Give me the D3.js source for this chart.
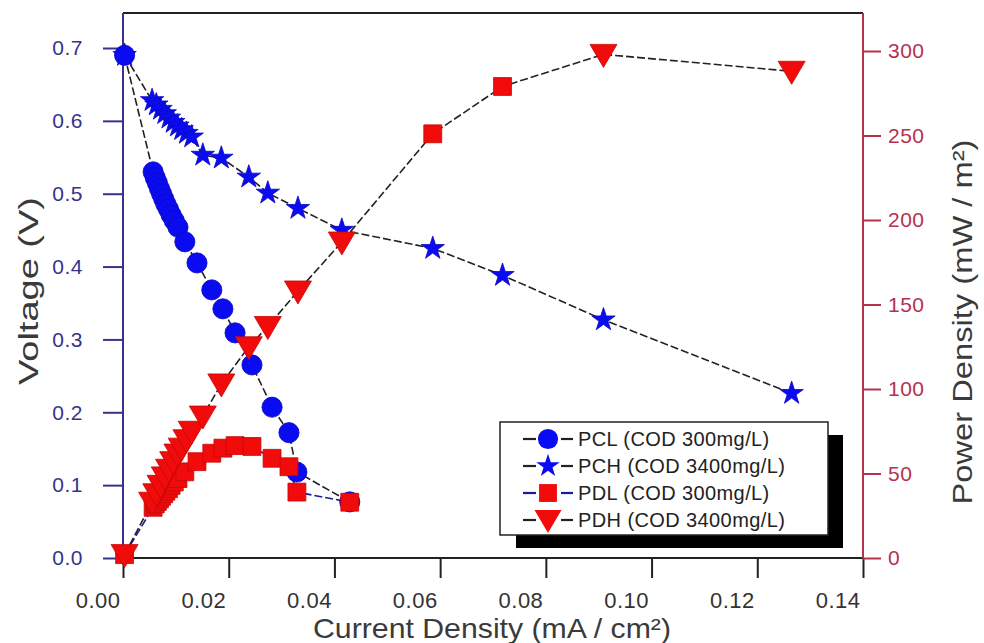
<!DOCTYPE html>
<html>
<head>
<meta charset="utf-8">
<script src="https://cdn.jsdelivr.net/npm/d3@7"></script>
<style>
  body { margin: 0; background: #fff; }
  text { font-family: "Liberation Sans", Arial, sans-serif; }
</style>
</head>
<body>
<svg id="chart" width="984" height="643"></svg>
<script>
// tick values
const xTicks = [0, 0.02, 0.04, 0.06, 0.08, 0.10, 0.12, 0.14];
const voltTicks = [0, 0.1, 0.2, 0.3, 0.4, 0.5, 0.6, 0.7];
const powerTicks = [0, 50, 100, 150, 200, 250, 300];

// low COD runs (PCL voltage, PDL power) share the current density values
const lowX = [0.0003, 0.0057, 0.0061, 0.0065, 0.0069, 0.0073, 0.0077, 0.0081, 0.0086, 0.0091,
  0.0097, 0.0104, 0.0117, 0.0140, 0.0168, 0.0189, 0.0212, 0.0244, 0.0282, 0.0314, 0.0329, 0.0429];
const pclV = [0.690, 0.530, 0.522, 0.515, 0.507, 0.500, 0.493, 0.486, 0.479, 0.471,
  0.463, 0.454, 0.434, 0.405, 0.368, 0.342, 0.309, 0.265, 0.207, 0.172, 0.118, 0.077];
const pdlP = [2, 30, 32, 33.5, 35, 36.5, 38, 39.5, 41, 43,
  45, 47, 51, 57, 62, 65, 66.5, 66, 59, 54, 39, 33];

// high COD runs (PCH voltage, PDH power)
const highX = [0.0003, 0.0055, 0.0063, 0.0071, 0.0079, 0.0087, 0.0095, 0.0103, 0.0111, 0.0120,
  0.0130, 0.0151, 0.0186, 0.0238, 0.0274, 0.0331, 0.0414, 0.0586, 0.0718, 0.0909, 0.1265];
const pchV = [0.690, 0.628, 0.622, 0.616, 0.610, 0.604, 0.598, 0.593, 0.588, 0.583,
  0.578, 0.553, 0.549, 0.523, 0.501, 0.480, 0.450, 0.425, 0.388, 0.327, 0.226];
const pdhP = [2, 33, 38, 43, 48, 52.5, 57, 61.5, 65, 70,
  75, 84, 103, 125, 137, 158, 187, 251, 279, 298, 288];
// in the original two PDH points are drawn with square markers
const pdhSquareIdx = [17, 18];

const legendNames = ['PCL (COD 300mg/L)', 'PCH (COD 3400mg/L)', 'PDL (COD 300mg/L)', 'PDH (COD 3400mg/L)'];

const svg = d3.select('#chart');
const plotL = 123, plotR = 863, plotT = 13, plotB = 558;

const x = d3.scaleLinear().domain([0, 0.14]).range([plotL, plotR]);
const yV = d3.scaleLinear().domain([0, 0.7]).range([plotB, 48]);
const yP = d3.scaleLinear().domain([0, 300]).range([plotB, 51]);

const blue = '#0b0bf2', red = '#f20b0b';
const navy = '#34348f', crimson = '#b5314f';

// marker paths
const circlePath = d3.symbol(d3.symbolCircle, 320)();
const starPath = d3.symbol(d3.symbolStar, 170)();
const squarePath = d3.symbol(d3.symbolSquare, 320)();
const triPath = 'M-13.5,-10L13.5,-10L0,13Z';

// axes
const xAxis = svg.append('g')
  .attr('transform', `translate(0,${plotB})`)
  .call(d3.axisBottom(x).tickValues(xTicks).tickFormat(d3.format('.2f')).tickSize(20).tickSizeOuter(0).tickPadding(14));
xAxis.select('.domain').remove();
xAxis.selectAll('line').attr('stroke', '#222').attr('stroke-width', 2);
xAxis.selectAll('text')
  .attr('text-anchor', 'end').attr('x', -3)
  .style('font-size', '22px').style('letter-spacing', '0.5px').attr('fill', '#333');

const vAxis = svg.append('g')
  .attr('transform', `translate(${plotL},0)`)
  .call(d3.axisLeft(yV).tickValues(voltTicks).tickFormat(d3.format('.1f')).tickSize(20).tickSizeOuter(0).tickPadding(20));
vAxis.select('.domain').remove();
vAxis.selectAll('line').attr('stroke', navy).attr('stroke-width', 2);
vAxis.selectAll('text').style('font-size', '21px').style('letter-spacing', '0.5px').attr('fill', navy);

const pAxis = svg.append('g')
  .attr('transform', `translate(${plotR},0)`)
  .call(d3.axisRight(yP).tickValues(powerTicks).tickSize(18).tickSizeOuter(0).tickPadding(7));
pAxis.select('.domain').remove();
pAxis.selectAll('line').attr('stroke', crimson).attr('stroke-width', 2);
pAxis.selectAll('text').style('font-size', '21px').style('letter-spacing', '0.5px').attr('fill', crimson);

// frame
svg.append('line').attr('x1', plotL).attr('x2', plotR).attr('y1', plotT).attr('y2', plotT)
  .attr('stroke', '#222').attr('stroke-width', 2);
svg.append('line').attr('x1', plotL).attr('x2', plotR).attr('y1', plotB).attr('y2', plotB)
  .attr('stroke', '#222').attr('stroke-width', 2);
svg.append('line').attr('x1', plotL).attr('x2', plotL).attr('y1', plotT).attr('y2', plotB)
  .attr('stroke', navy).attr('stroke-width', 2);
svg.append('line').attr('x1', plotR).attr('x2', plotR).attr('y1', plotT).attr('y2', plotB)
  .attr('stroke', crimson).attr('stroke-width', 2);

// axis titles
svg.append('text').attr('transform', 'translate(38,291) rotate(-90)')
  .attr('text-anchor', 'middle').style('font-size', '27px').attr('fill', '#3a3a3a')
  .attr('textLength', 188).attr('lengthAdjust', 'spacingAndGlyphs')
  .text('Voltage (V)');
svg.append('text').attr('transform', 'translate(972,322) rotate(-90)')
  .attr('text-anchor', 'middle').style('font-size', '27px').attr('fill', '#3a3a3a')
  .attr('textLength', 365).attr('lengthAdjust', 'spacingAndGlyphs')
  .text('Power Density (mW / m²)');
svg.append('text').attr('x', 492).attr('y', 638)
  .attr('text-anchor', 'middle').style('font-size', '28px').attr('fill', '#3a3a3a')
  .attr('textLength', 358).attr('lengthAdjust', 'spacingAndGlyphs')
  .text('Current Density (mA / cm²)');

// series
const toPts = (xs, ys) => xs.map((v, i) => ({ x: v, y: ys[i], i }));
const pcl = toPts(lowX, pclV), pdl = toPts(lowX, pdlP);
const pch = toPts(highX, pchV), pdh = toPts(highX, pdhP);

const lineV = d3.line().x(d => x(d.x)).y(d => yV(d.y));
const lineP = d3.line().x(d => x(d.x)).y(d => yP(d.y));

const lines = svg.append('g').attr('fill', 'none').attr('stroke-width', 1.6).attr('stroke-dasharray', '8,3');
lines.append('path').attr('d', lineV(pch)).attr('stroke', '#222');
lines.append('path').attr('d', lineV(pcl)).attr('stroke', '#222');
lines.append('path').attr('d', lineP(pdl)).attr('stroke', '#1a1a9a');
lines.append('path').attr('d', lineP(pdh)).attr('stroke', '#222');

function markers(data, yScale, pathFn, color) {
  svg.append('g').selectAll('path')
    .data(data)
    .join('path')
    .attr('d', pathFn)
    .attr('transform', d => `translate(${x(d.x)},${yScale(d.y)})`)
    .attr('fill', color)
    .attr('stroke', d3.color(color).darker(0.6))
    .attr('stroke-width', 0.8);
}
markers(pch, yV, () => starPath, blue);
markers(pcl, yV, () => circlePath, blue);
markers(pdl, yP, () => squarePath, red);
markers(pdh, yP, d => pdhSquareIdx.includes(d.i) ? squarePath : triPath, red);

// legend
const lg = svg.append('g');
lg.append('rect').attr('x', 516).attr('y', 435).attr('width', 327).attr('height', 113).attr('fill', '#000');
lg.append('rect').attr('x', 500).attr('y', 422).attr('width', 328).attr('height', 113)
  .attr('fill', '#fff').attr('stroke', '#222').attr('stroke-width', 1.5);

const legendShapes = [circlePath, starPath, squarePath, triPath];
const legendLine = ['#222', '#222', '#1a1a9a', '#222'];
const legendColor = [blue, blue, red, red];
const rows = lg.selectAll('g.row')
  .data(legendNames)
  .join('g')
  .attr('class', 'row')
  .attr('transform', (d, i) => `translate(548,${439 + i * 27})`);
rows.append('line').attr('x1', -25).attr('x2', -12).attr('stroke', (d, i) => legendLine[i]).attr('stroke-width', 2.2);
rows.append('line').attr('x1', 13).attr('x2', 25).attr('stroke', (d, i) => legendLine[i]).attr('stroke-width', 2.2);
rows.append('path').attr('d', (d, i) => legendShapes[i]).attr('fill', (d, i) => legendColor[i]);
rows.append('text').attr('x', 30).attr('dy', '0.36em')
  .style('font-size', '20px').style('letter-spacing', '0.4px').attr('fill', '#222')
  .text(d => d);
</script>
</body>
</html>
